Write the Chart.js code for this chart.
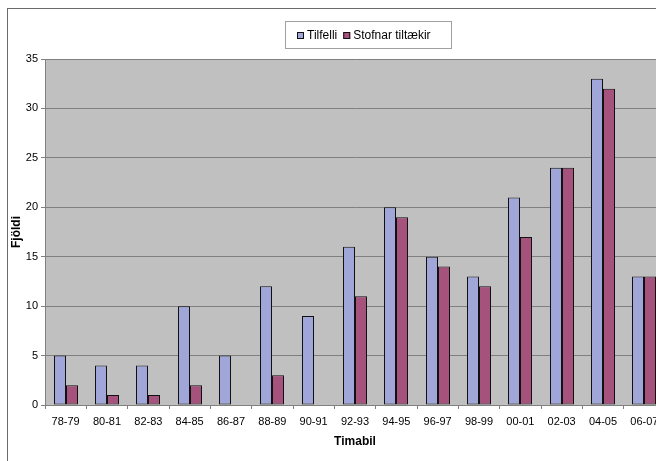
<!DOCTYPE html>
<html>
<head>
<meta charset="utf-8">
<script src="https://cdn.jsdelivr.net/npm/chart.js@4.4.1/dist/chart.umd.min.js"></script>
<style>
  html, body { margin: 0; padding: 0; background: #fff; overflow: hidden; width: 656px; height: 461px; }
  #wrap { position: absolute; left: 0; top: 0; width: 700px; height: 480px; }
  #frame { position: absolute; left: 7px; top: 8px; width: 800px; height: 600px; border: 1px solid #6b6b6b; pointer-events: none; }
  canvas { position: absolute; left: 0; top: 0; }
</style>
</head>
<body>
<div id="wrap">
  <canvas id="c" width="700" height="480"></canvas>
  <div id="frame"></div>
</div>
<script>
// Periods (two-year spans)
const periods = ['78-79', '80-81', '82-83', '84-85', '86-87', '88-89', '90-91', '92-93',
                 '94-95', '96-97', '98-99', '00-01', '02-03', '04-05', '06-07'];
// Cases per period
const tilfelli = [5, 4, 4, 10, 5, 12, 9, 16, 20, 15, 13, 21, 24, 33, 13];
// Available strains per period
const stofnar = [2, 1, 1, 2, 0, 3, 0, 11, 19, 14, 12, 17, 24, 32, 13];
const seriesNames = ['Tilfelli', 'Stofnar tiltækir'];
const yTicks = [0, 5, 10, 15, 20, 25, 30, 35];

const FONT = "'Liberation Sans', Arial, sans-serif";
const BLUE = '#a0a6d8';
const PURPLE = '#a5527c';

// Gray plot background
const plotBg = {
  id: 'plotBg',
  beforeDraw(chart) {
    const { ctx, chartArea: a } = chart;
    ctx.save();
    ctx.fillStyle = '#c0c0c0';
    ctx.fillRect(a.left, a.top, a.right - a.left, a.bottom - a.top);
    ctx.restore();
  }
};

// Snap bar edges to whole pixels so the 1px outlines stay crisp
const pixelSnap = {
  id: 'pixelSnap',
  afterDatasetsUpdate(chart) {
    chart.data.datasets.forEach((ds, i) => {
      chart.getDatasetMeta(i).data.forEach((el) => {
        el.width = Math.round(el.width);
        el.x = Math.round(el.x - el.width / 2) + el.width / 2;
      });
    });
  }
};

// Boxed legend with small square swatches
const boxLegend = {
  id: 'boxLegend',
  afterDraw(chart) {
    const ctx = chart.ctx;
    ctx.save();
    ctx.strokeStyle = '#a0a0a0';
    ctx.lineWidth = 1;
    ctx.strokeRect(285.5, 21.5, 166, 27);
    ctx.font = '12px ' + FONT;
    ctx.textBaseline = 'middle';
    let x = 297;
    const cy = 35;
    chart.data.datasets.forEach((ds) => {
      ctx.fillStyle = ds.backgroundColor;
      ctx.fillRect(x, cy - 3, 7, 7);
      ctx.strokeStyle = '#111';
      ctx.strokeRect(x + 0.5, cy - 2.5, 6, 6);
      ctx.fillStyle = '#000';
      ctx.fillText(ds.label, x + 10, cy + 0.5);
      x += 10 + ctx.measureText(ds.label).width + 6;
    });
    ctx.restore();
  }
};

new Chart(document.getElementById('c'), {
  type: 'bar',
  data: {
    labels: periods,
    datasets: [
      { label: seriesNames[0], data: tilfelli, backgroundColor: BLUE, borderColor: '#111', borderWidth: 1, borderSkipped: false },
      { label: seriesNames[1], data: stofnar, backgroundColor: PURPLE, borderColor: '#111',
        borderWidth: (c) => (c.raw === 0 ? 0 : 1), borderSkipped: false }
    ]
  },
  options: {
    responsive: false,
    animation: false,
    devicePixelRatio: 1,
    layout: { padding: { left: 8, top: 59, right: 35, bottom: 28 } },
    datasets: { bar: { categoryPercentage: 24 / (620 / 15), barPercentage: 1.0, inflateAmount: 0 } },
    plugins: { legend: { display: false }, tooltip: { enabled: false } },
    scales: {
      x: {
        grid: { display: true, drawOnChartArea: false, drawTicks: true, tickLength: 4, color: '#808080', offset: true },
        border: { display: true, color: '#808080' },
        ticks: { color: '#000', font: { family: FONT, size: 11 }, padding: 6, maxRotation: 0, autoSkip: false },
        title: { display: true, text: 'Timabil', color: '#000', font: { family: FONT, size: 12, weight: 'bold' }, padding: { top: 0, bottom: 3 } },
        afterFit(scale) { scale.height = 47; }
      },
      y: {
        min: 0, max: 35,
        afterBuildTicks(scale) { scale.ticks = yTicks.map(v => ({ value: v })); },
        grid: { color: '#808080', drawTicks: true, tickLength: 4 },
        border: { display: true, color: '#808080' },
        ticks: { color: '#000', font: { family: FONT, size: 11 }, padding: 3 },
        title: { display: true, text: 'Fjöldi', color: '#000', font: { family: FONT, size: 12, weight: 'bold' }, padding: { top: 1, bottom: 0 } },
        afterFit(scale) { scale.width = 37; }
      }
    }
  },
  plugins: [plotBg, pixelSnap, boxLegend]
});
</script>
</body>
</html>
